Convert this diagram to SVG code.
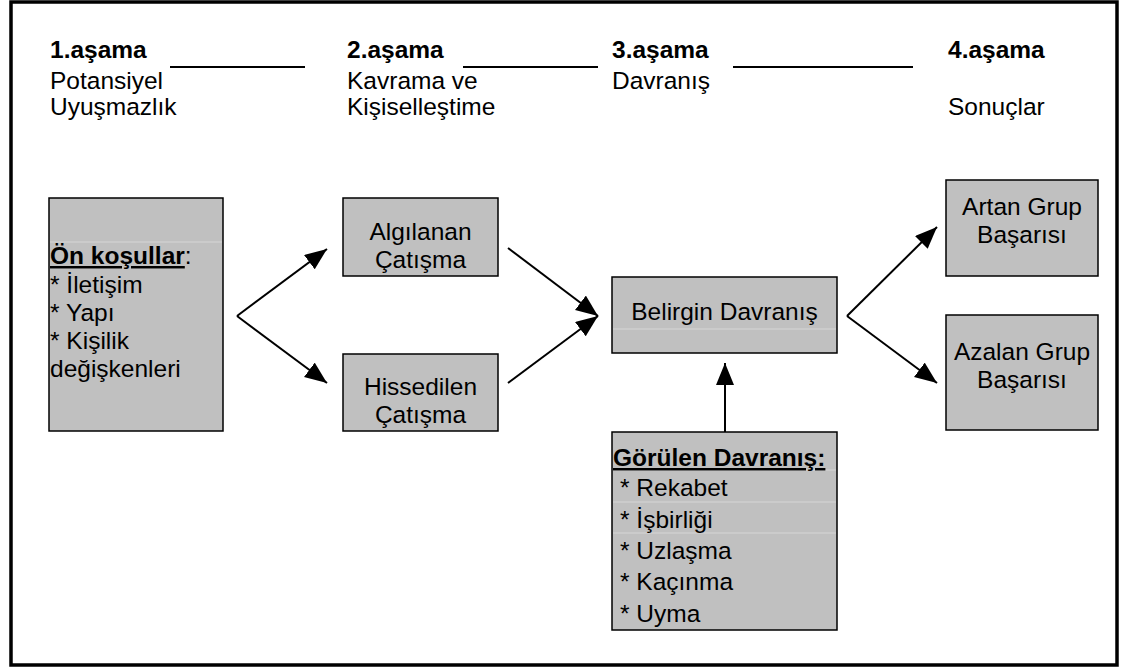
<svg xmlns="http://www.w3.org/2000/svg" width="1123" height="669" viewBox="0 0 1123 669">
<defs>
<style>
text{font-family:"Liberation Sans",Arial,sans-serif;font-size:24.5px;fill:#000}
.b{font-weight:bold}
.c{text-anchor:middle}
.u{text-decoration:underline}
.box{fill:#c0c0c0;stroke:#000;stroke-width:1.5}
.sep{stroke:#d6d6d6;stroke-width:1}
.rule{stroke:#000;stroke-width:2}
.conn{stroke:#000;stroke-width:2;fill:none}
</style>
<marker id="ah" markerUnits="userSpaceOnUse" markerWidth="24" markerHeight="20" refX="22" refY="9" orient="auto">
<path d="M0,0 L22,9 L0,18 Z" fill="#000"/>
</marker>
</defs>
<rect x="11" y="2" width="1106" height="663" fill="#fff" stroke="#000" stroke-width="3.5"/>

<g id="headers">
<text x="50" y="58" class="b">1.aşama</text>
<text x="50" y="89">Potansiyel</text>
<text x="50" y="115">Uyuşmazlık</text>
<line class="rule" x1="170" y1="67" x2="305" y2="67"/>
<text x="347" y="58" class="b">2.aşama</text>
<text x="347" y="89">Kavrama ve</text>
<text x="347" y="115">Kişiselleştime</text>
<line class="rule" x1="463" y1="67" x2="598" y2="67"/>
<text x="612" y="58" class="b">3.aşama</text>
<text x="612" y="89">Davranış</text>
<line class="rule" x1="733" y1="67" x2="913" y2="67"/>
<text x="948" y="58" class="b">4.aşama</text>
<text x="948" y="115">Sonuçlar</text>
</g>

<g id="on-kosullar">
<rect class="box" x="49" y="198" width="174" height="233"/>
<line class="sep" x1="50" y1="242" x2="222" y2="242"/>
<text x="50" y="264"><tspan class="b u">Ön koşullar</tspan>:</text>
<text x="50" y="293">* İletişim</text>
<text x="50" y="321">* Yapı</text>
<text x="50" y="349">* Kişilik</text>
<text x="50" y="377">değişkenleri</text>
</g>

<g id="algilanan">
<rect class="box" x="343" y="198" width="155" height="78"/>
<text x="420.5" y="240" class="c">Algılanan</text>
<text x="420.5" y="268" class="c">Çatışma</text>
</g>

<g id="hissedilen">
<rect class="box" x="343" y="354" width="155" height="77"/>
<text x="420.5" y="395" class="c">Hissedilen</text>
<text x="420.5" y="423" class="c">Çatışma</text>
</g>

<g id="belirgin">
<rect class="box" x="612" y="277" width="225" height="76"/>
<line class="sep" x1="613" y1="329" x2="836" y2="329"/>
<text x="724.5" y="320" class="c">Belirgin Davranış</text>
</g>

<g id="gorulen">
<rect class="box" x="612" y="432" width="225" height="198"/>
<line class="sep" x1="613" y1="470" x2="836" y2="470"/>
<line class="sep" x1="613" y1="502" x2="836" y2="502"/>
<line class="sep" x1="613" y1="533" x2="836" y2="533"/>
<text x="613" y="466" class="b u">Görülen Davranış:</text>
<text x="620" y="496">* Rekabet</text>
<text x="620" y="528">* İşbirliği</text>
<text x="620" y="559">* Uzlaşma</text>
<text x="620" y="590">* Kaçınma</text>
<text x="620" y="622">* Uyma</text>
</g>

<g id="artan">
<rect class="box" x="946" y="180" width="152" height="96"/>
<text x="1022" y="215" class="c">Artan Grup</text>
<text x="1022" y="243" class="c">Başarısı</text>
</g>

<g id="azalan">
<rect class="box" x="946" y="315" width="152" height="115"/>
<text x="1022" y="360" class="c">Azalan Grup</text>
<text x="1022" y="388" class="c">Başarısı</text>
</g>

<g id="connectors">
<line class="conn" x1="237" y1="316" x2="327" y2="249" marker-end="url(#ah)"/>
<line class="conn" x1="237" y1="316" x2="327" y2="383" marker-end="url(#ah)"/>
<line class="conn" x1="508" y1="248" x2="598" y2="316" marker-end="url(#ah)"/>
<line class="conn" x1="508" y1="383" x2="598" y2="316" marker-end="url(#ah)"/>
<line class="conn" x1="725" y1="432" x2="725" y2="363" marker-end="url(#ah)"/>
<line class="conn" x1="847" y1="316" x2="937" y2="227" marker-end="url(#ah)"/>
<line class="conn" x1="847" y1="316" x2="937" y2="383" marker-end="url(#ah)"/>
</g>
</svg>
